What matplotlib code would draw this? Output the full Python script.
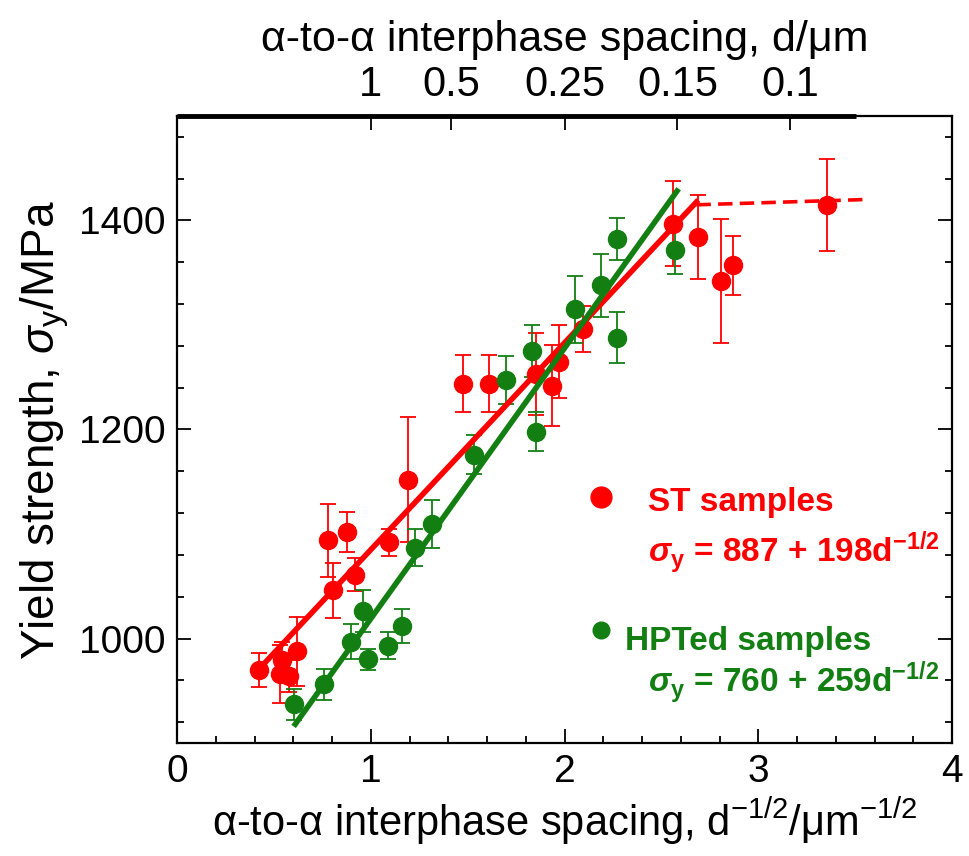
import matplotlib
matplotlib.use('Agg')
import matplotlib.pyplot as plt
import numpy as np

plt.rcParams['font.family'] = ['Liberation Sans', 'DejaVu Sans']
plt.rcParams['mathtext.fontset'] = 'custom'
plt.rcParams['mathtext.rm'] = 'Liberation Sans'
plt.rcParams['mathtext.it'] = 'Liberation Sans:italic'
plt.rcParams['mathtext.bf'] = 'Liberation Sans:bold'
plt.rcParams['mathtext.bfit'] = 'Liberation Sans:bold:italic'

# ST samples (red)
st_x = [0.425, 0.54, 0.53, 0.58, 0.62, 0.78, 0.807, 0.876, 0.92, 1.096, 1.194,
        1.478, 1.612, 1.853, 1.934, 1.97, 2.094, 2.56, 2.687, 2.808, 2.868, 3.353]
st_y = [970, 979, 966, 964, 988, 1094, 1046, 1102, 1061, 1092, 1152,
        1244, 1244, 1253, 1242, 1265, 1296, 1397, 1384, 1342, 1357, 1415]
st_err = [16, 18, 28, 15, 33, 35, 26, 19, 16, 13, 60,
          27, 27, 39, 39, 35, 22, 41, 40, 59, 28, 44]

# HPTed samples (green)
hpt_x = [0.604, 0.76, 0.896, 0.96, 0.987, 1.09, 1.16, 1.228, 1.315, 1.53,
         1.70, 1.83, 1.853, 2.054, 2.19, 2.27, 2.27, 2.57]
hpt_y = [937, 956, 997, 1026, 980, 993, 1012, 1087, 1110, 1176,
         1247, 1275, 1198, 1315, 1338, 1382, 1288, 1372]
hpt_err = [15, 15, 17, 20, 10, 13, 16, 18, 23, 19,
           23, 25, 19, 32, 30, 20, 24, 23]

# Hall-Petch fits
st_a, st_b = 887, 198
hpt_a, hpt_b = 760, 259
st_fit_x = [0.42, 2.68]
hpt_fit_x = [0.61, 2.58]
plateau_x = [2.68, 3.54]
plateau_y = [1415, 1420]

# top axis: spacing d in um
top_d = [1, 0.5, 0.25, 0.15, 0.1]
top_labels = ['1', '0.5', '0.25', '0.15', '0.1']

red = '#ff0000'
green = '#137f13'

fig = plt.figure(figsize=(9.69, 8.56), dpi=100)
ax = fig.add_axes([0.1827, 0.132, 0.80, 0.7325])

ax.errorbar(st_x, st_y, yerr=st_err, fmt='o', color=red, ms=13, elinewidth=1.3,
            capsize=6, capthick=1.3, zorder=3)
ax.errorbar(hpt_x, hpt_y, yerr=hpt_err, fmt='o', color=green, ms=13, elinewidth=1.3,
            capsize=6, capthick=1.3, zorder=3)

xs = np.array(st_fit_x)
ax.plot(xs, st_a + st_b * xs, color=red, lw=4, zorder=4)
xs = np.array(hpt_fit_x)
ax.plot(xs, hpt_a + hpt_b * xs, color=green, lw=4, zorder=4)
ax.plot(plateau_x, plateau_y, color=red, lw=2.6, ls=(0, (4, 2)), zorder=4)

ax.set_xlim(0, 4)
ax.set_ylim(900, 1500)
ax.set_xticks([0, 1, 2, 3, 4])
ax.set_xticks(np.arange(0, 4.01, 0.2), minor=True)
ax.set_yticks([1000, 1200, 1400])
ax.set_yticks(np.arange(920, 1500, 40), minor=True)
ax.tick_params(which='both', direction='in', right=True, labelsize=28, width=1.3)
ax.tick_params(which='major', length=10, pad=8)
ax.tick_params(which='minor', length=5)
for s in ax.spines.values():
    s.set_linewidth(1.6)
# thick top rule, stops short of the right edge
ax.plot([0, 0.876], [1, 1], transform=ax.transAxes, color='black', lw=3.5,
        clip_on=False, zorder=5, solid_capstyle='butt')

ax.set_xlabel('α-to-α interphase spacing, d$^{\\mathregular{-1/2}}$/μm$^{\\mathregular{-1/2}}$',
              fontsize=30, labelpad=4)
ax.set_ylabel('Yield strength, $\\sigma_{\\mathregular{y}}$/MPa', fontsize=33, labelpad=6)

top = ax.twiny()
top.set_xlim(ax.get_xlim())
top.set_xticks(1 / np.sqrt(np.array(top_d)))
top.set_xticklabels(top_labels)
top.tick_params(direction='in', length=10, width=1.3, labelsize=30, pad=8)
top.set_xlabel('α-to-α interphase spacing, d/μm', fontsize=31, labelpad=10)
for s in top.spines.values():
    s.set_visible(False)

# legend text
ax.plot([2.19], [1135], 'o', color=red, ms=15, clip_on=False)
ax.plot([2.19], [1008], 'o', color=green, ms=12, clip_on=False)
ax.text(2.43, 1122, 'ST samples', color=red, fontsize=24, fontweight='bold',
        va='baseline')
ax.text(2.43, 1073, '$\\boldsymbol{\\sigma}_{\\mathbf{y}}$ = 887 + 198d$^{\\mathbf{-1/2}}$', color=red,
        fontsize=24, fontweight='bold', va='baseline')
ax.text(2.31, 989, 'HPTed samples', color=green, fontsize=24, fontweight='bold',
        va='baseline')
ax.text(2.43, 948, '$\\boldsymbol{\\sigma}_{\\mathbf{y}}$ = 760 + 259d$^{\\mathbf{-1/2}}$', color=green,
        fontsize=24, fontweight='bold', va='baseline')

fig.savefig('out.png', dpi=100)
